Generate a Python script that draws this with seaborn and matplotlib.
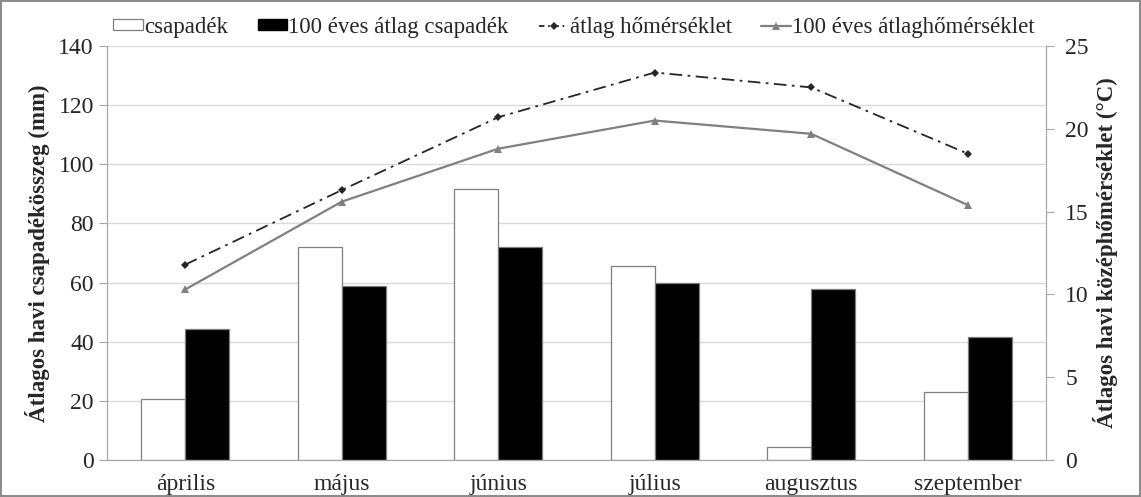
import pandas as pd
import matplotlib.pyplot as plt
import seaborn as sns
from matplotlib.patches import Patch
from matplotlib.lines import Line2D

# data
months = ['április', 'május', 'június', 'július', 'augusztus', 'szeptember']
csapadek = [20.7, 72.0, 91.7, 65.5, 4.3, 22.9]
csapadek_100 = [44.3, 58.7, 72.0, 60.0, 58.0, 41.5]
homerseklet = [11.8, 16.3, 20.7, 23.4, 22.5, 18.5]
homerseklet_100 = [10.3, 15.6, 18.8, 20.5, 19.7, 15.4]

bar_labels = ['csapadék', '100 éves átlag csapadék']

sns.set_style("white")
plt.rcParams['font.family'] = ['Liberation Serif', 'DejaVu Serif']

bars = pd.DataFrame({
    'month': months * 2,
    'value': csapadek + csapadek_100,
    'series': [bar_labels[0]] * 6 + [bar_labels[1]] * 6,
})
temps = pd.DataFrame({'month': months, 't': homerseklet, 't100': homerseklet_100})

fig = plt.figure(figsize=(11.41, 4.97), dpi=100)
fig.patch.set_edgecolor('#8c8c8c')
fig.patch.set_linewidth(1.5)
ax1 = fig.add_axes([0.0938, 0.0744, 0.8229, 0.833])

sns.barplot(data=bars, x='month', y='value', hue='series', ax=ax1,
            palette=['white', 'black'], width=0.56, saturation=1,
            edgecolor='#7f7f7f', linewidth=0.9, legend=False)
ax1.set_ylim(0, 140)
ax1.set_yticks(range(0, 141, 20))
ax1.set_xlim(-0.5, 5.5)
ax1.yaxis.grid(True, color='#d9d9d9', linewidth=1)
ax1.set_axisbelow(True)
ax1.set_xlabel('')
ax1.set_ylabel('Átlagos havi csapadékösszeg (mm)', fontsize=16.5, fontweight='bold', labelpad=6)
ax1.set_xticks([i - 0.5 for i in range(7)], minor=True)
ax1.tick_params(axis='x', which='major', length=0, labelsize=17, pad=10)
ax1.tick_params(axis='x', which='minor', length=6, color='#a6a6a6')
ax1.tick_params(axis='y', length=6, color='#a6a6a6', labelsize=17, left=True)
ax1.spines['top'].set_visible(False)
for s in ['left', 'bottom', 'right']:
    ax1.spines[s].set_color('#a6a6a6')

ax2 = ax1.twinx()
sns.lineplot(data=temps, x='month', y='t', ax=ax2, color='#262626',
             linestyle=(0, (7, 3, 1.5, 3)), linewidth=1.3, marker='D',
             markersize=4.5, markeredgewidth=0, sort=False)
sns.lineplot(data=temps, x='month', y='t100', ax=ax2, color='#808080',
             linewidth=1.6, marker='^', markersize=6, markeredgewidth=0,
             sort=False)
ax2.set_ylim(0, 25)
ax2.set_yticks(range(0, 26, 5))
ax2.set_xlim(-0.5, 5.5)
ax2.set_ylabel('Átlagos havi középhőmérséklet (°C)', fontsize=16.5, fontweight='bold', labelpad=3)
ax2.tick_params(axis='y', length=6, color='#a6a6a6', labelsize=17, right=True, pad=8)
ax2.spines['top'].set_visible(False)
for s in ['left', 'bottom', 'right']:
    ax2.spines[s].set_color('#a6a6a6')

handles = [
    Patch(facecolor='white', edgecolor='#7f7f7f', linewidth=0.9),
    Patch(facecolor='black', edgecolor='black'),
    Line2D([], [], color='#262626', linestyle=(0, (3, 2, 1, 2)), linewidth=1.3,
           marker='D', markersize=4, markeredgewidth=0),
    Line2D([], [], color='#808080', linewidth=1.6, marker='^', markersize=6,
           markeredgewidth=0),
]
labels = bar_labels + ['átlag hőmérséklet', '100 éves átlaghőmérséklet']
fig.legend(handles, labels, loc='upper center', bbox_to_anchor=(0.503, 1.008),
           ncol=4, frameon=False, fontsize=16.5, handlelength=1.3,
           handletextpad=0.05, columnspacing=1.3, handleheight=0.4)

fig.savefig('out.png', dpi=100, edgecolor=fig.get_edgecolor())
